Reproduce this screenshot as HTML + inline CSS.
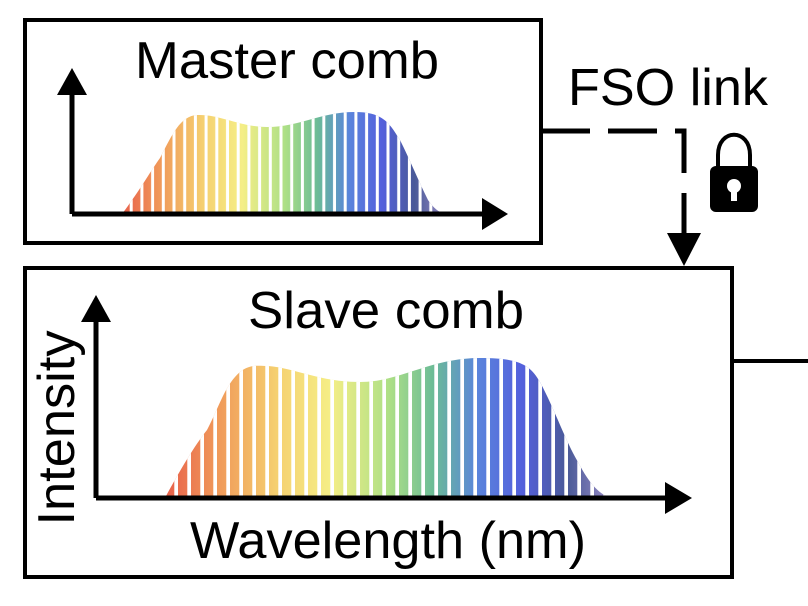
<!DOCTYPE html>
<html><head><meta charset="utf-8"><style>
html,body{margin:0;padding:0;background:#fff;}
svg{display:block;}
text{font-family:"Liberation Sans",Arial,sans-serif;fill:#000;}
</style></head><body>
<svg width="808" height="606" viewBox="0 0 808 606" xmlns="http://www.w3.org/2000/svg">
<defs>
<linearGradient id="gm" gradientUnits="userSpaceOnUse" x1="122" y1="0" x2="447" y2="0">
<stop offset="0" stop-color="#e8604a"/>
<stop offset="0.12" stop-color="#f09a5a"/>
<stop offset="0.25" stop-color="#f5d070"/>
<stop offset="0.37" stop-color="#f5ee86"/>
<stop offset="0.5" stop-color="#aee086"/>
<stop offset="0.6" stop-color="#6cbc96"/>
<stop offset="0.7" stop-color="#5a84dc"/>
<stop offset="0.8" stop-color="#5460dc"/>
<stop offset="0.9" stop-color="#4a5a98"/>
<stop offset="1" stop-color="#9a8cc6"/>
</linearGradient>
<linearGradient id="gs" gradientUnits="userSpaceOnUse" x1="165" y1="0" x2="612" y2="0">
<stop offset="0" stop-color="#e8604a"/>
<stop offset="0.12" stop-color="#f09a5a"/>
<stop offset="0.25" stop-color="#f5d070"/>
<stop offset="0.37" stop-color="#f5ee86"/>
<stop offset="0.5" stop-color="#aee086"/>
<stop offset="0.6" stop-color="#6cbc96"/>
<stop offset="0.7" stop-color="#5a84dc"/>
<stop offset="0.8" stop-color="#5460dc"/>
<stop offset="0.9" stop-color="#4a5a98"/>
<stop offset="1" stop-color="#9a8cc6"/>
</linearGradient>
<pattern id="pm" patternUnits="userSpaceOnUse" x="122" y="0" width="10.7" height="10">
<rect x="7.7" y="0" width="3" height="10" fill="#fff"/>
</pattern>
<pattern id="ps" patternUnits="userSpaceOnUse" x="165" y="0" width="13" height="10">
<rect x="9.3" y="0" width="3.7" height="10" fill="#fff"/>
</pattern>
</defs>

<!-- Master box -->
<rect x="25" y="20" width="516" height="223" fill="none" stroke="#000" stroke-width="4"/>
<text x="287" y="78" font-size="52" text-anchor="middle" textLength="304" lengthAdjust="spacingAndGlyphs">Master comb</text>
<path d="M122,214 C140,190 150,172 160,158 C172,135 180,116 197,115 C220,114 240,127 267,127 C300,127 320,112 355,112 C385,112 390,125 400,140 C410,160 418,180 428,200 C435,210 440,213 447,214 Z" fill="url(#gm)"/>
<path d="M122,214 C140,190 150,172 160,158 C172,135 180,116 197,115 C220,114 240,127 267,127 C300,127 320,112 355,112 C385,112 390,125 400,140 C410,160 418,180 428,200 C435,210 440,213 447,214 Z" fill="url(#pm)"/>
<line x1="72" y1="214" x2="485" y2="214" stroke="#000" stroke-width="5"/>
<polygon points="482,198 508,214 482,230" fill="#000"/>
<line x1="72" y1="214" x2="72" y2="92" stroke="#000" stroke-width="5"/>
<polygon points="57,95 72,68 87,95" fill="#000"/>

<!-- FSO link -->
<text x="668" y="105" font-size="52" text-anchor="middle" textLength="200" lengthAdjust="spacingAndGlyphs">FSO link</text>
<line x1="541" y1="131" x2="590" y2="131" stroke="#000" stroke-width="5"/>
<line x1="608" y1="131" x2="657" y2="131" stroke="#000" stroke-width="5"/>
<polyline points="675,131 684,131 684,173" fill="none" stroke="#000" stroke-width="5"/>
<line x1="684" y1="193" x2="684" y2="240" stroke="#000" stroke-width="5"/>
<polygon points="667,233 701,233 684,266" fill="#000"/>
<!-- lock -->
<path d="M718,168 L718,155 C718,128 750,128 750,155 L750,168" fill="none" stroke="#000" stroke-width="4"/>
<rect x="710" y="166" width="48" height="46" rx="6" fill="#000"/>
<circle cx="734" cy="186" r="7" fill="#fff"/>
<rect x="731" y="188" width="6" height="13" fill="#fff"/>

<!-- Slave box -->
<rect x="25" y="268" width="707" height="309" fill="none" stroke="#000" stroke-width="4"/>
<line x1="732" y1="361" x2="808" y2="361" stroke="#000" stroke-width="4"/>
<text x="386" y="328" font-size="52" text-anchor="middle" textLength="276" lengthAdjust="spacingAndGlyphs">Slave comb</text>
<path d="M165,498 C180,470 195,445 207,430 C220,405 225,385 240,372 C250,364 258,366 268,366 C295,368 320,382 360,382 C400,382 430,358 480,358 C520,358 530,365 540,382 C555,410 565,440 578,462 C590,485 600,495 612,498 Z" fill="url(#gs)"/>
<path d="M165,498 C180,470 195,445 207,430 C220,405 225,385 240,372 C250,364 258,366 268,366 C295,368 320,382 360,382 C400,382 430,358 480,358 C520,358 530,365 540,382 C555,410 565,440 578,462 C590,485 600,495 612,498 Z" fill="url(#ps)"/>
<line x1="96" y1="498" x2="668" y2="498" stroke="#000" stroke-width="5"/>
<polygon points="665,482 692,498 665,514" fill="#000"/>
<line x1="96" y1="498" x2="96" y2="318" stroke="#000" stroke-width="5"/>
<polygon points="81,322 96,295 111,322" fill="#000"/>
<text x="0" y="0" font-size="52" text-anchor="middle" textLength="195" lengthAdjust="spacingAndGlyphs" transform="translate(74,428) rotate(-90)">Intensity</text>
<text x="388" y="558" font-size="52" text-anchor="middle" textLength="396" lengthAdjust="spacingAndGlyphs">Wavelength (nm)</text>
</svg>
</body></html>
